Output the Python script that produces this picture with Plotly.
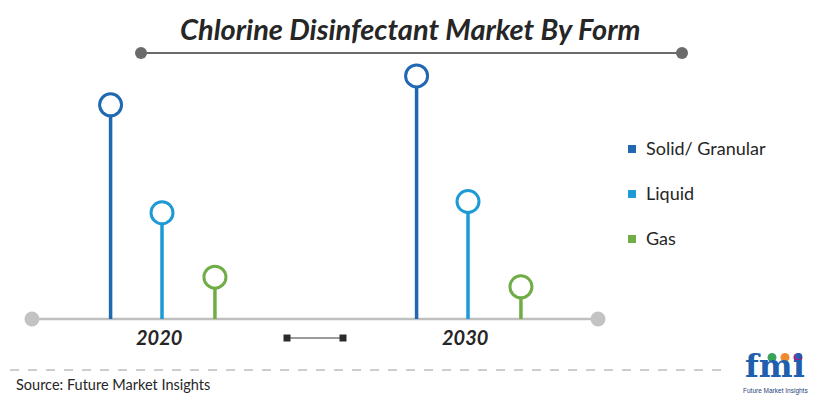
import plotly.graph_objects as go

W, H = 820, 401
OFF = 8  # page body margin in the browser
FW, FH = W - OFF, H - OFF

# ---- data ----
years = ["2020", "2030"]
forms = ["Solid/ Granular", "Liquid", "Gas"]
solid_vals = [6.65, 7.55]
liquid_vals = [3.30, 3.65]
gas_vals = [1.30, 1.00]
values = {"Solid/ Granular": solid_vals, "Liquid": liquid_vals, "Gas": gas_vals}
colors = {"Solid/ Granular": "#2068b2", "Liquid": "#1d9ad6", "Gas": "#70ad47"}
offsets = {"Solid/ Granular": -0.168, "Liquid": 0.0, "Gas": 0.173}

title = "Chlorine Disinfectant Market By Form"
source = "Source: Future Market Insights"

FONT = "Lato"

fig = go.Figure()

# baseline with grey end dots
fig.add_trace(go.Scatter(
    x=[-0.425, 1.425], y=[0, 0], mode="lines+markers",
    line=dict(color="#bfbfbf", width=2.5),
    marker=dict(size=15, color="#c3c3c3"),
    hoverinfo="skip", showlegend=False))

for f in forms:
    xs, ys = [], []
    for i, v in enumerate(values[f]):
        xs += [i + offsets[f], i + offsets[f], None]
        ys += [0, v, None]
    fig.add_trace(go.Scatter(
        x=xs, y=ys, mode="lines", line=dict(color=colors[f], width=3.5),
        hoverinfo="skip", showlegend=False))
    fig.add_trace(go.Scatter(
        x=[i + offsets[f] for i in range(len(years))], y=values[f],
        mode="markers", name=f,
        marker=dict(size=22, color="white", line=dict(color=colors[f], width=3)),
        showlegend=False))

shapes = []
annotations = []

# year labels
for i, yr in enumerate(years):
    annotations.append(dict(x=i - 0.01, y=-0.57, xref="x", yref="y",
                            text="<b><i>%s</i></b>" % yr, showarrow=False,
                            font=dict(family=FONT, size=20, color="#262626"),
                            xanchor="center", yanchor="middle"))


def px(x):
    return (x - OFF) / FW


def py(y):
    return 1 - (y - OFF) / FH


# title underline
shapes.append(dict(type="line", xref="paper", yref="paper", x0=px(141), x1=px(682),
                   y0=py(53), y1=py(53), line=dict(color="#6b6b6b", width=2)))
for xx in (141, 682):
    shapes.append(dict(type="circle", xref="paper", yref="paper",
                       x0=px(xx - 6), x1=px(xx + 6), y0=py(59), y1=py(47),
                       fillcolor="#6b6b6b", line=dict(width=0)))

# middle connector
shapes.append(dict(type="line", xref="paper", yref="paper", x0=px(287), x1=px(343),
                   y0=py(338), y1=py(338), line=dict(color="#7a7a7a", width=1.5)))
for xx in (287, 343):
    shapes.append(dict(type="rect", xref="paper", yref="paper",
                       x0=px(xx - 3.5), x1=px(xx + 3.5), y0=py(341.5), y1=py(334.5),
                       fillcolor="#2b2b2b", line=dict(width=0)))

# dashed separator
shapes.append(dict(type="line", xref="paper", yref="paper", x0=px(10), x1=px(728),
                   y0=py(370), y1=py(370), line=dict(color="#9a9a9a", width=1, dash="dash")))

# legend
for k, f in enumerate(forms):
    yy = 149 + k * 45
    shapes.append(dict(type="rect", xref="paper", yref="paper",
                       x0=px(628), x1=px(636), y0=py(yy + 4), y1=py(yy - 4),
                       fillcolor=colors[f], line=dict(width=0)))
    annotations.append(dict(x=px(644), y=py(yy - 1), xref="paper", yref="paper",
                            text=f,
                            showarrow=False, xanchor="left", yanchor="middle",
                            font=dict(family=FONT, size=18, color="#262626")))

# title
annotations.append(dict(x=px(410), y=py(29), xref="paper", yref="paper",
                        text="<b><i>%s</i></b>" % title, showarrow=False,
                        xanchor="center", yanchor="middle",
                        font=dict(family=FONT, size=29, color="#262626")))
# source
annotations.append(dict(x=px(14), y=py(384), xref="paper", yref="paper", text=source,
                        showarrow=False, xanchor="left", yanchor="middle",
                        font=dict(family=FONT, size=14.5, color="#262626")))

# logo
for xx, c in ((772, "#3aa35a"), (785, "#f08a30"), (798, "#8a2a8a")):
    shapes.append(dict(type="circle", xref="paper", yref="paper",
                       x0=px(xx - 4.5), x1=px(xx + 4.5), y0=py(362), y1=py(353),
                       fillcolor=c, line=dict(width=0)))
annotations.append(dict(x=px(775), y=py(387), xref="paper", yref="paper",
                        text="<b>fmi</b>", showarrow=False, xanchor="center", yanchor="bottom",
                        font=dict(family="DejaVu Serif", size=32, color="#1f5fae")))
annotations.append(dict(x=px(775), y=py(385), xref="paper", yref="paper",
                        text="Future Market Insights", showarrow=False,
                        xanchor="center", yanchor="top",
                        font=dict(family="Liberation Sans", size=6.5, color="#1f3f7a")))

kpx = 32.2  # px per value unit
fig.update_layout(
    width=FW, height=FH, autosize=False,
    margin=dict(l=0, r=0, t=0, b=0),
    paper_bgcolor="white", plot_bgcolor="white",
    xaxis=dict(range=[(OFF - 162) / 306, (W - 162) / 306], visible=False, fixedrange=True),
    yaxis=dict(range=[-(H - 319) / kpx, (319 - OFF) / kpx], visible=False, fixedrange=True),
    shapes=shapes, annotations=annotations, showlegend=False,
)

fig.write_html("out.html")
